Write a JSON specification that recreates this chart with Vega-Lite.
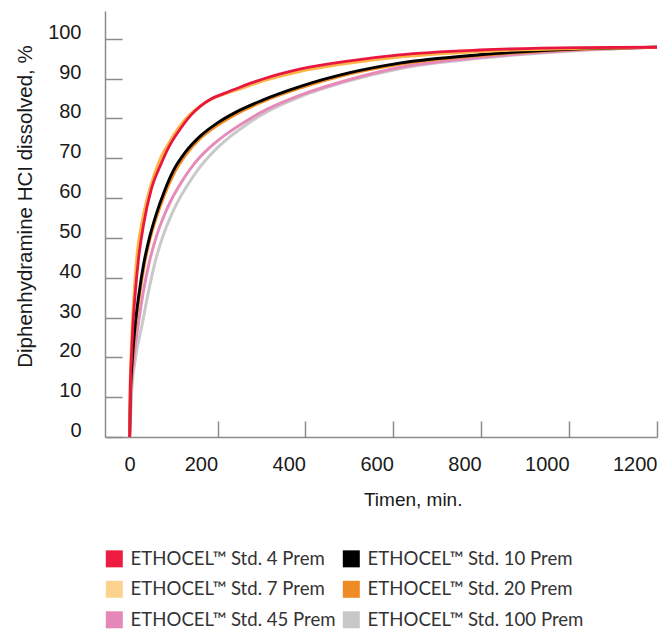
{
  "$schema": "https://vega.github.io/schema/vega-lite/v6.json",
  "width": 552,
  "height": 426,
  "autosize": {"type": "none"},
  "padding": {"left": 105, "top": 11, "right": 13, "bottom": 196},
  "background": "white",
  "config": {"view": {"stroke": null}},
  "datasets": {
    "curves": [
      {"s": "ETHOCEL™ Std. 100 Prem", "t": 0, "v": 0},
      {"s": "ETHOCEL™ Std. 100 Prem", "t": 4.4, "v": 11},
      {"s": "ETHOCEL™ Std. 100 Prem", "t": 13, "v": 19.5},
      {"s": "ETHOCEL™ Std. 100 Prem", "t": 28, "v": 28},
      {"s": "ETHOCEL™ Std. 100 Prem", "t": 42, "v": 36},
      {"s": "ETHOCEL™ Std. 100 Prem", "t": 57, "v": 43.5},
      {"s": "ETHOCEL™ Std. 100 Prem", "t": 75, "v": 50.2},
      {"s": "ETHOCEL™ Std. 100 Prem", "t": 95, "v": 55.8},
      {"s": "ETHOCEL™ Std. 100 Prem", "t": 114, "v": 60},
      {"s": "ETHOCEL™ Std. 100 Prem", "t": 136, "v": 64},
      {"s": "ETHOCEL™ Std. 100 Prem", "t": 160, "v": 67.8},
      {"s": "ETHOCEL™ Std. 100 Prem", "t": 180, "v": 70.4},
      {"s": "ETHOCEL™ Std. 100 Prem", "t": 200, "v": 72.7},
      {"s": "ETHOCEL™ Std. 100 Prem", "t": 228, "v": 75.4},
      {"s": "ETHOCEL™ Std. 100 Prem", "t": 260, "v": 78.0},
      {"s": "ETHOCEL™ Std. 100 Prem", "t": 300, "v": 80.9},
      {"s": "ETHOCEL™ Std. 100 Prem", "t": 387, "v": 85.4},
      {"s": "ETHOCEL™ Std. 100 Prem", "t": 501, "v": 89.5},
      {"s": "ETHOCEL™ Std. 100 Prem", "t": 614, "v": 92.5},
      {"s": "ETHOCEL™ Std. 100 Prem", "t": 796, "v": 95.1},
      {"s": "ETHOCEL™ Std. 100 Prem", "t": 1023, "v": 97.1},
      {"s": "ETHOCEL™ Std. 100 Prem", "t": 1200, "v": 97.9},

      {"s": "ETHOCEL™ Std. 45 Prem", "t": 0, "v": 0},
      {"s": "ETHOCEL™ Std. 45 Prem", "t": 3.1, "v": 11},
      {"s": "ETHOCEL™ Std. 45 Prem", "t": 9, "v": 19},
      {"s": "ETHOCEL™ Std. 45 Prem", "t": 20, "v": 28.5},
      {"s": "ETHOCEL™ Std. 45 Prem", "t": 32, "v": 37},
      {"s": "ETHOCEL™ Std. 45 Prem", "t": 45, "v": 44},
      {"s": "ETHOCEL™ Std. 45 Prem", "t": 61, "v": 50.4},
      {"s": "ETHOCEL™ Std. 45 Prem", "t": 80, "v": 56},
      {"s": "ETHOCEL™ Std. 45 Prem", "t": 95, "v": 59.6},
      {"s": "ETHOCEL™ Std. 45 Prem", "t": 114, "v": 63.3},
      {"s": "ETHOCEL™ Std. 45 Prem", "t": 136, "v": 67},
      {"s": "ETHOCEL™ Std. 45 Prem", "t": 160, "v": 70.3},
      {"s": "ETHOCEL™ Std. 45 Prem", "t": 180, "v": 72.5},
      {"s": "ETHOCEL™ Std. 45 Prem", "t": 200, "v": 74.4},
      {"s": "ETHOCEL™ Std. 45 Prem", "t": 228, "v": 76.7},
      {"s": "ETHOCEL™ Std. 45 Prem", "t": 260, "v": 79.0},
      {"s": "ETHOCEL™ Std. 45 Prem", "t": 300, "v": 81.6},
      {"s": "ETHOCEL™ Std. 45 Prem", "t": 387, "v": 85.8},
      {"s": "ETHOCEL™ Std. 45 Prem", "t": 501, "v": 89.8},
      {"s": "ETHOCEL™ Std. 45 Prem", "t": 614, "v": 92.8},
      {"s": "ETHOCEL™ Std. 45 Prem", "t": 796, "v": 95.3},
      {"s": "ETHOCEL™ Std. 45 Prem", "t": 1023, "v": 97.2},
      {"s": "ETHOCEL™ Std. 45 Prem", "t": 1200, "v": 97.9},

      {"s": "ETHOCEL™ Std. 20 Prem", "t": 0, "v": 0},
      {"s": "ETHOCEL™ Std. 20 Prem", "t": 2.2, "v": 11},
      {"s": "ETHOCEL™ Std. 20 Prem", "t": 6.5, "v": 19},
      {"s": "ETHOCEL™ Std. 20 Prem", "t": 14, "v": 28.3},
      {"s": "ETHOCEL™ Std. 20 Prem", "t": 23, "v": 36},
      {"s": "ETHOCEL™ Std. 20 Prem", "t": 34, "v": 43.5},
      {"s": "ETHOCEL™ Std. 20 Prem", "t": 47, "v": 50},
      {"s": "ETHOCEL™ Std. 20 Prem", "t": 62, "v": 55.5},
      {"s": "ETHOCEL™ Std. 20 Prem", "t": 80, "v": 61},
      {"s": "ETHOCEL™ Std. 20 Prem", "t": 100, "v": 66},
      {"s": "ETHOCEL™ Std. 20 Prem", "t": 126, "v": 70.6},
      {"s": "ETHOCEL™ Std. 20 Prem", "t": 160, "v": 74.9},
      {"s": "ETHOCEL™ Std. 20 Prem", "t": 200, "v": 78.3},
      {"s": "ETHOCEL™ Std. 20 Prem", "t": 242, "v": 81.1},
      {"s": "ETHOCEL™ Std. 20 Prem", "t": 300, "v": 84.1},
      {"s": "ETHOCEL™ Std. 20 Prem", "t": 387, "v": 87.6},
      {"s": "ETHOCEL™ Std. 20 Prem", "t": 501, "v": 91.2},
      {"s": "ETHOCEL™ Std. 20 Prem", "t": 614, "v": 93.6},
      {"s": "ETHOCEL™ Std. 20 Prem", "t": 796, "v": 95.8},
      {"s": "ETHOCEL™ Std. 20 Prem", "t": 1023, "v": 97.4},
      {"s": "ETHOCEL™ Std. 20 Prem", "t": 1200, "v": 97.9},

      {"s": "ETHOCEL™ Std. 10 Prem", "t": 0, "v": 0},
      {"s": "ETHOCEL™ Std. 10 Prem", "t": 2, "v": 11},
      {"s": "ETHOCEL™ Std. 10 Prem", "t": 6, "v": 19.3},
      {"s": "ETHOCEL™ Std. 10 Prem", "t": 13, "v": 28.5},
      {"s": "ETHOCEL™ Std. 10 Prem", "t": 22, "v": 36.5},
      {"s": "ETHOCEL™ Std. 10 Prem", "t": 32, "v": 43.5},
      {"s": "ETHOCEL™ Std. 10 Prem", "t": 45, "v": 50},
      {"s": "ETHOCEL™ Std. 10 Prem", "t": 60, "v": 55.8},
      {"s": "ETHOCEL™ Std. 10 Prem", "t": 80, "v": 62},
      {"s": "ETHOCEL™ Std. 10 Prem", "t": 100, "v": 67},
      {"s": "ETHOCEL™ Std. 10 Prem", "t": 126, "v": 71.4},
      {"s": "ETHOCEL™ Std. 10 Prem", "t": 160, "v": 75.5},
      {"s": "ETHOCEL™ Std. 10 Prem", "t": 200, "v": 78.9},
      {"s": "ETHOCEL™ Std. 10 Prem", "t": 242, "v": 81.6},
      {"s": "ETHOCEL™ Std. 10 Prem", "t": 300, "v": 84.5},
      {"s": "ETHOCEL™ Std. 10 Prem", "t": 387, "v": 88.0},
      {"s": "ETHOCEL™ Std. 10 Prem", "t": 501, "v": 91.5},
      {"s": "ETHOCEL™ Std. 10 Prem", "t": 614, "v": 93.9},
      {"s": "ETHOCEL™ Std. 10 Prem", "t": 796, "v": 96.0},
      {"s": "ETHOCEL™ Std. 10 Prem", "t": 1023, "v": 97.5},
      {"s": "ETHOCEL™ Std. 10 Prem", "t": 1200, "v": 97.9},

      {"s": "ETHOCEL™ Std. 7 Prem", "t": 0, "v": 0},
      {"s": "ETHOCEL™ Std. 7 Prem", "t": 0.9, "v": 11},
      {"s": "ETHOCEL™ Std. 7 Prem", "t": 3, "v": 20},
      {"s": "ETHOCEL™ Std. 7 Prem", "t": 6, "v": 28},
      {"s": "ETHOCEL™ Std. 7 Prem", "t": 10, "v": 36},
      {"s": "ETHOCEL™ Std. 7 Prem", "t": 17, "v": 46},
      {"s": "ETHOCEL™ Std. 7 Prem", "t": 29, "v": 54.5},
      {"s": "ETHOCEL™ Std. 7 Prem", "t": 45, "v": 62},
      {"s": "ETHOCEL™ Std. 7 Prem", "t": 70, "v": 70},
      {"s": "ETHOCEL™ Std. 7 Prem", "t": 90, "v": 74},
      {"s": "ETHOCEL™ Std. 7 Prem", "t": 112, "v": 77.8},
      {"s": "ETHOCEL™ Std. 7 Prem", "t": 140, "v": 81.3},
      {"s": "ETHOCEL™ Std. 7 Prem", "t": 160, "v": 83.1},
      {"s": "ETHOCEL™ Std. 7 Prem", "t": 185, "v": 84.8},
      {"s": "ETHOCEL™ Std. 7 Prem", "t": 215, "v": 86.1},
      {"s": "ETHOCEL™ Std. 7 Prem", "t": 250, "v": 87.4},
      {"s": "ETHOCEL™ Std. 7 Prem", "t": 300, "v": 89.3},
      {"s": "ETHOCEL™ Std. 7 Prem", "t": 387, "v": 91.8},
      {"s": "ETHOCEL™ Std. 7 Prem", "t": 501, "v": 93.9},
      {"s": "ETHOCEL™ Std. 7 Prem", "t": 614, "v": 95.4},
      {"s": "ETHOCEL™ Std. 7 Prem", "t": 796, "v": 96.8},
      {"s": "ETHOCEL™ Std. 7 Prem", "t": 1023, "v": 97.6},
      {"s": "ETHOCEL™ Std. 7 Prem", "t": 1200, "v": 97.9},

      {"s": "ETHOCEL™ Std. 4 Prem", "t": 0, "v": 0},
      {"s": "ETHOCEL™ Std. 4 Prem", "t": 1.2, "v": 11},
      {"s": "ETHOCEL™ Std. 4 Prem", "t": 4, "v": 20},
      {"s": "ETHOCEL™ Std. 4 Prem", "t": 7, "v": 27},
      {"s": "ETHOCEL™ Std. 4 Prem", "t": 12, "v": 35},
      {"s": "ETHOCEL™ Std. 4 Prem", "t": 20, "v": 44.5},
      {"s": "ETHOCEL™ Std. 4 Prem", "t": 32, "v": 53.5},
      {"s": "ETHOCEL™ Std. 4 Prem", "t": 50, "v": 62.5},
      {"s": "ETHOCEL™ Std. 4 Prem", "t": 70, "v": 68.2},
      {"s": "ETHOCEL™ Std. 4 Prem", "t": 90, "v": 73},
      {"s": "ETHOCEL™ Std. 4 Prem", "t": 118, "v": 77.8},
      {"s": "ETHOCEL™ Std. 4 Prem", "t": 140, "v": 80.9},
      {"s": "ETHOCEL™ Std. 4 Prem", "t": 160, "v": 83},
      {"s": "ETHOCEL™ Std. 4 Prem", "t": 185, "v": 84.9},
      {"s": "ETHOCEL™ Std. 4 Prem", "t": 215, "v": 86.3},
      {"s": "ETHOCEL™ Std. 4 Prem", "t": 250, "v": 87.8},
      {"s": "ETHOCEL™ Std. 4 Prem", "t": 300, "v": 89.8},
      {"s": "ETHOCEL™ Std. 4 Prem", "t": 387, "v": 92.4},
      {"s": "ETHOCEL™ Std. 4 Prem", "t": 501, "v": 94.5},
      {"s": "ETHOCEL™ Std. 4 Prem", "t": 614, "v": 96.0},
      {"s": "ETHOCEL™ Std. 4 Prem", "t": 796, "v": 97.2},
      {"s": "ETHOCEL™ Std. 4 Prem", "t": 1023, "v": 97.8},
      {"s": "ETHOCEL™ Std. 4 Prem", "t": 1200, "v": 97.9}
    ]
  },
  "data": {"name": "curves"},
  "encoding": {
    "x": {
      "field": "t", "type": "quantitative",
      "scale": {"domain": [-56, 1200], "nice": false, "zero": false},
      "axis": {
        "values": [0, 200, 400, 600, 800, 1000, 1200],
        "format": "d",
        "grid": false,
        "title": "Timen, min.",
        "titleFont": "Liberation Sans", "titleFontSize": 19, "titleFontWeight": "normal", "titleColor": "#1a1a1a",
        "titleX": 307.7, "titleY": 68.5, "titleAlign": "center", "titleBaseline": "alphabetic", "titleAnchor": null,
        "labelFont": "Liberation Sans", "labelFontSize": 20, "labelColor": "#1a1a1a",
        "labelAlign": {"condition": {"test": "datum.value == 0", "value": "center"}, "value": "right"},
        "labelBaseline": "top", "labelPadding": 33, "labelFlush": false, "labelOverlap": false,
        "tickSize": -16, "tickWidth": 1.5, "tickColor": "#8c8c8c",
        "tickOpacity": {"condition": {"test": "datum.value == 0", "value": 0}, "value": 1},
        "domainColor": "#8c8c8c", "domainWidth": 1.5
      }
    },
    "y": {
      "field": "v", "type": "quantitative",
      "scale": {"domain": [0, 107], "nice": false, "zero": true},
      "axis": {
        "values": [0, 10, 20, 30, 40, 50, 60, 70, 80, 90, 100],
        "grid": false,
        "title": "Diphenhydramine HCI dissolved, %",
        "titleFont": "Liberation Sans", "titleFontSize": 20.5, "titleFontWeight": "normal", "titleColor": "#1a1a1a",
        "titleX": -79.5, "titleY": 195, "titleAlign": "center", "titleBaseline": "middle", "titleAngle": -90, "titleAnchor": null,
        "labelFont": "Liberation Sans", "labelFontSize": 20, "labelColor": "#1a1a1a",
        "labelAlign": "right", "labelBaseline": "middle", "labelOffset": -6.5, "labelPadding": 41,
        "labelFlush": false, "labelOverlap": false,
        "tickSize": -17, "tickWidth": 1.5, "tickColor": "#8c8c8c",
        "domainColor": "#8c8c8c", "domainWidth": 1.5
      }
    }
  },
  "layer": [
    {
      "mark": {"type": "line", "interpolate": "monotone", "clip": true},
      "encoding": {
        "stroke": {
          "field": "s", "type": "nominal",
          "scale": {
            "domain": ["ETHOCEL™ Std. 100 Prem", "ETHOCEL™ Std. 45 Prem", "ETHOCEL™ Std. 20 Prem", "ETHOCEL™ Std. 10 Prem", "ETHOCEL™ Std. 7 Prem", "ETHOCEL™ Std. 4 Prem"],
            "range": ["#c9c9c9", "#e789b9", "#f0891f", "#000000", "#fdb548", "#e8173f"]
          },
          "legend": null
        },
        "strokeWidth": {
          "field": "s", "type": "ordinal",
          "scale": {
            "domain": ["ETHOCEL™ Std. 100 Prem", "ETHOCEL™ Std. 45 Prem", "ETHOCEL™ Std. 20 Prem", "ETHOCEL™ Std. 10 Prem", "ETHOCEL™ Std. 7 Prem", "ETHOCEL™ Std. 4 Prem"],
            "range": [3, 2.8, 3.4, 2.6, 3.8, 2.4]
          },
          "legend": null
        }
      }
    },
    {
      "mark": {"type": "point", "shape": "square", "filled": true, "opacity": 0},
      "encoding": {
        "fill": {
          "field": "s", "type": "nominal",
          "scale": {
            "domain": ["ETHOCEL™ Std. 4 Prem", "ETHOCEL™ Std. 10 Prem", "ETHOCEL™ Std. 7 Prem", "ETHOCEL™ Std. 20 Prem", "ETHOCEL™ Std. 45 Prem", "ETHOCEL™ Std. 100 Prem"],
            "range": ["#ed1c40", "#000000", "#fbd28e", "#ee8b22", "#e687b9", "#c8c8ca"]
          },
          "legend": {
            "orient": "none", "legendX": 0, "legendY": 538.5,
            "title": null, "columns": 2, "direction": "horizontal",
            "symbolType": "square", "symbolSize": 289, "symbolStrokeWidth": 0, "symbolOpacity": 1,
            "labelFont": "Lato", "labelFontSize": 18.6, "labelColor": "#333333",
            "labelOffset": 7, "labelLimit": 400, "columnPadding": 6, "rowPadding": 11.5
          }
        }
      }
    }
  ]
}
